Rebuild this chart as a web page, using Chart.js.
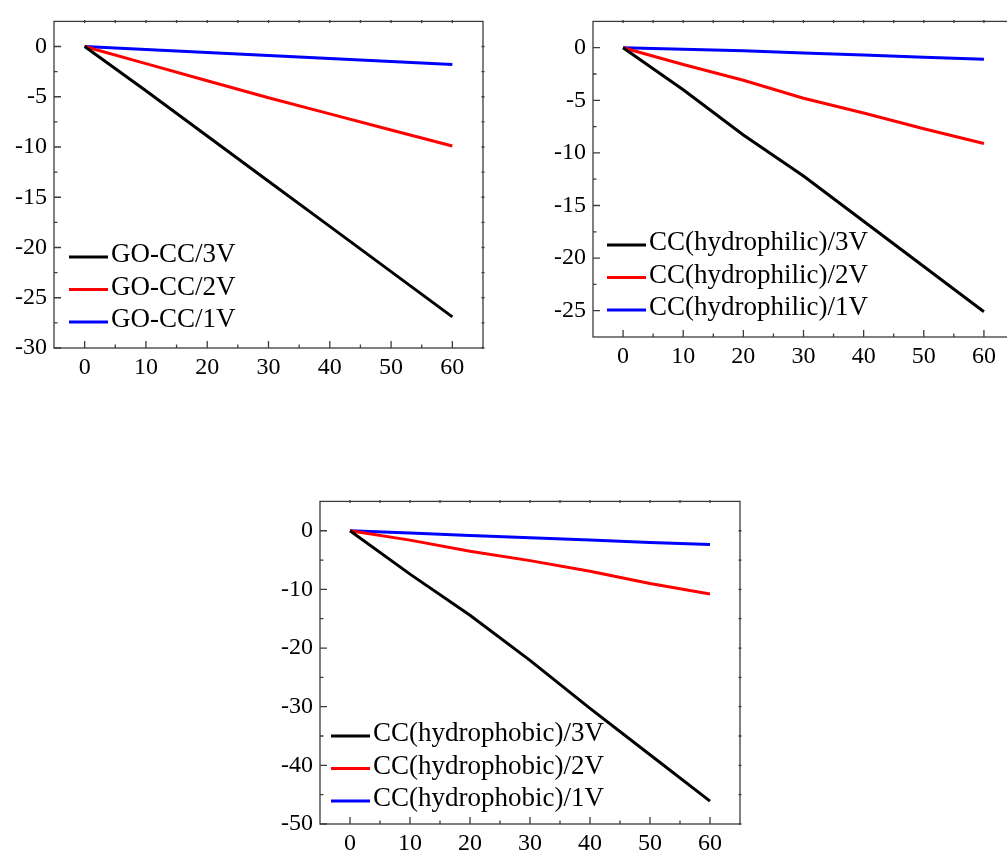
<!DOCTYPE html>
<html>
<head>
<meta charset="utf-8">
<script src="https://cdn.jsdelivr.net/npm/chart.js@4.4.1/dist/chart.umd.min.js"></script>
<style>
  html, body { margin: 0; padding: 0; background: #fff; overflow: hidden; width: 1007px; height: 857px; }
  .box { position: absolute; }
</style>
</head>
<body>
<div class="box" style="left:0;top:0;width:500px;height:390px"><canvas id="c1"></canvas></div>
<div class="box" style="left:540px;top:0;width:490px;height:390px"><canvas id="c2"></canvas></div>
<div class="box" style="left:260px;top:480px;width:500px;height:377px"><canvas id="c3"></canvas></div>
<script>
// time (x) values shared by all three panels
const timeMin = [0, 10, 20, 30, 40, 50, 60];
const xTicks = [0, 10, 20, 30, 40, 50, 60];

// panel 1: GO-CC
const goLabels = ['GO-CC/3V', 'GO-CC/2V', 'GO-CC/1V'];
const go3V = [0, -4.4, -8.9, -13.4, -17.9, -22.4, -26.9];
const go2V = [0, -1.7, -3.4, -5.1, -6.7, -8.3, -9.9];
const go1V = [0, -0.3, -0.6, -0.9, -1.2, -1.5, -1.8];
const yTicks1 = [-30, -25, -20, -15, -10, -5, 0];

// panel 2: CC(hydrophilic)
const philLabels = ['CC(hydrophilic)/3V', 'CC(hydrophilic)/2V', 'CC(hydrophilic)/1V'];
const phil3V = [0, -4.0, -8.3, -12.2, -16.5, -20.8, -25.1];
const phil2V = [0, -1.6, -3.1, -4.8, -6.2, -7.7, -9.1];
const phil1V = [0, -0.15, -0.3, -0.5, -0.7, -0.9, -1.1];
const yTicks2 = [-25, -20, -15, -10, -5, 0];

// panel 3: CC(hydrophobic)
const phobLabels = ['CC(hydrophobic)/3V', 'CC(hydrophobic)/2V', 'CC(hydrophobic)/1V'];
const phob3V = [0, -7.4, -14.4, -22.1, -30.3, -38.2, -46.1];
const phob2V = [0, -1.6, -3.5, -5.1, -6.9, -9.0, -10.8];
const phob1V = [0, -0.4, -0.8, -1.2, -1.6, -2.0, -2.35];
const yTicks3 = [-50, -40, -30, -20, -10, 0];

const lineColors = ['#000000', '#ff0000', '#0000ff'];
const FONT = '"Liberation Serif", "Times New Roman", serif';

// frame box + inward ticks (origin style)
const frameTicks = {
  id: 'frameTicks',
  afterDraw(chart) {
    const { ctx, chartArea: a, scales: { x, y } } = chart;
    ctx.save();
    ctx.strokeStyle = '#3c3c3c';
    ctx.lineWidth = 1.3;
    ctx.strokeRect(a.left, a.top, a.right - a.left, a.bottom - a.top);

    const withMinor = (vals, lo, hi) => {
      const out = [];
      const step = vals[1] - vals[0];
      vals.forEach(v => out.push({ v, major: true }));
      for (let i = -1; i < vals.length; i++) {
        const m = (i < 0 ? vals[0] - step / 2 : vals[i] + step / 2);
        if (m > lo + 1e-6 && m < hi - 1e-6) out.push({ v: m, major: false });
      }
      return out;
    };

    ctx.beginPath();
    withMinor(x.ticks.map(t => t.value), x.min, x.max).forEach(t => {
      const px = x.getPixelForValue(t.v);
      const len = t.major ? 7 : 3.5;
      ctx.moveTo(px, a.bottom); ctx.lineTo(px, a.bottom - len);
      ctx.moveTo(px, a.top - 1.5); ctx.lineTo(px, a.top + 1.5);
    });
    withMinor(y.ticks.map(t => t.value), y.min, y.max).forEach(t => {
      const py = y.getPixelForValue(t.v);
      const len = t.major ? 7 : 3.5;
      ctx.moveTo(a.left, py); ctx.lineTo(a.left + len, py);
      ctx.moveTo(a.right - 1.5, py); ctx.lineTo(a.right + 1.5, py);
    });
    ctx.stroke();
    ctx.restore();
  }
};

// legend drawn inside the plot, bottom-left
const insideLegend = {
  id: 'insideLegend',
  afterDraw(chart, args, opts) {
    const { ctx, chartArea: a } = chart;
    const sets = chart.data.datasets;
    ctx.save();
    ctx.font = opts.fontSize + 'px ' + FONT;
    ctx.textBaseline = 'middle';
    sets.forEach((ds, i) => {
      const yy = a.bottom - opts.bottom - (sets.length - 1 - i) * opts.rowGap;
      const x0 = a.left + opts.left;
      ctx.strokeStyle = ds.borderColor;
      ctx.lineWidth = 3;
      ctx.beginPath();
      ctx.moveTo(x0, yy);
      ctx.lineTo(x0 + opts.lineLen, yy);
      ctx.stroke();
      ctx.fillStyle = '#000';
      ctx.fillText(ds.label, x0 + opts.lineLen + opts.gap, yy - 2);
    });
    ctx.restore();
  }
};

function makeChart(id, labels, series, yRange, yTickVals, geo) {
  return new Chart(document.getElementById(id), {
    type: 'line',
    data: {
      datasets: series.map((s, i) => ({
        label: labels[i],
        data: s.map((v, j) => ({ x: timeMin[j], y: v })),
        borderColor: lineColors[i],
        backgroundColor: lineColors[i],
        borderWidth: 3,
        pointRadius: 0,
        tension: 0,
        fill: false,
      }))
    },
    options: {
      responsive: true,
      maintainAspectRatio: false,
      animation: false,
      layout: { padding: { top: geo.top, right: geo.right, left: 0, bottom: 0 } },
      plugins: {
        legend: { display: false },
        tooltip: { enabled: false },
        insideLegend: { fontSize: 27, left: geo.legLeft, bottom: geo.legBottom, rowGap: 32.5, lineLen: 39, gap: 3 },
      },
      scales: {
        x: {
          type: 'linear',
          min: -5,
          max: 65,
          grid: { display: false, drawTicks: false },
          border: { display: false },
          afterBuildTicks: s => { s.ticks = xTicks.map(v => ({ value: v })); },
          afterFit: s => { s.height = geo.xh; },
          ticks: { autoSkip: false, maxRotation: 0, padding: 5, color: '#000', font: { family: FONT, size: 24 } },
        },
        y: {
          min: yRange[0],
          max: yRange[1],
          grid: { display: false, drawTicks: false },
          border: { display: false },
          afterBuildTicks: s => { s.ticks = yTickVals.map(v => ({ value: v })); },
          afterFit: s => { s.width = geo.yw; },
          ticks: { autoSkip: false, padding: 7, color: '#000', font: { family: FONT, size: 24 } },
        }
      }
    },
    plugins: [frameTicks, insideLegend]
  });
}

makeChart('c1', goLabels, [go3V, go2V, go1V], [-30, 2.5], yTicks1,
  { top: 18, right: 17, yw: 54, xh: 42, legLeft: 15, legBottom: 26 });
makeChart('c2', philLabels, [phil3V, phil2V, phil1V], [-27.5, 2.5], yTicks2,
  { top: 10, right: 16, yw: 53, xh: 53, legLeft: 14, legBottom: 27 });
makeChart('c3', phobLabels, [phob3V, phob2V, phob1V], [-50, 5], yTicks3,
  { top: 16, right: 20, yw: 60, xh: 33, legLeft: 11, legBottom: 23 });
</script>
</body>
</html>
